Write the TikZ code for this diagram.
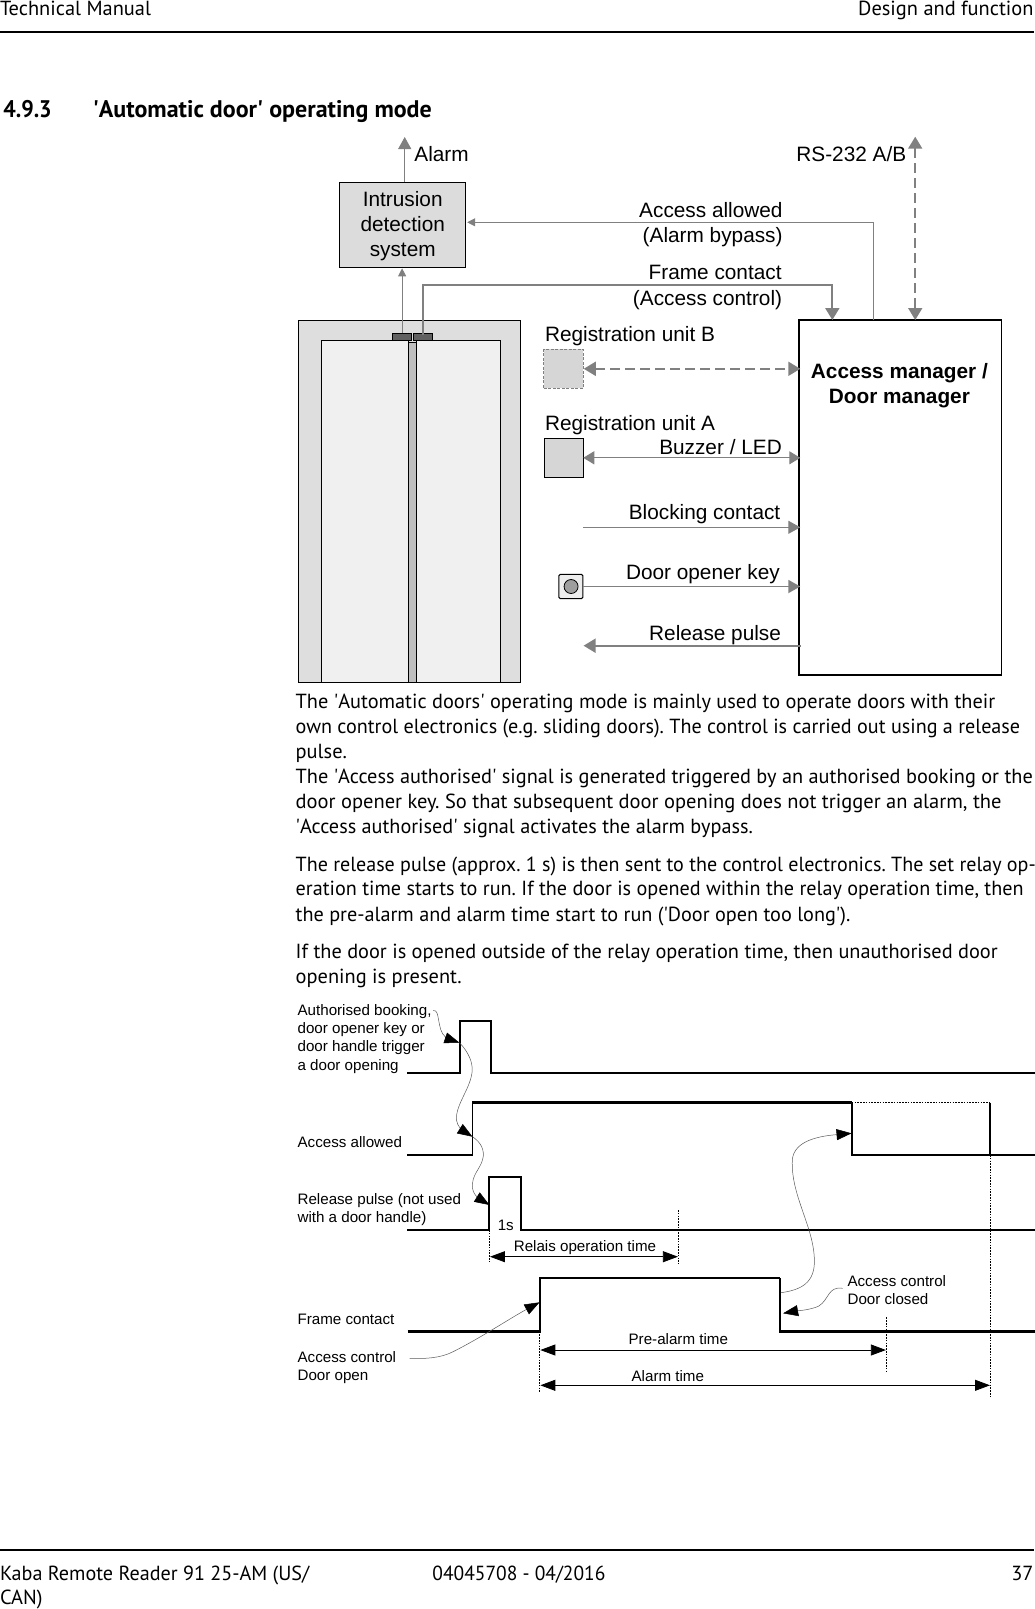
\documentclass[tikz,border=0pt]{standalone}
\usepackage{fontspec}
\usepackage{graphicx}
\setmainfont{PT Sans}
\newfontfamily\arialf{Liberation Sans}
\usetikzlibrary{arrows.meta}
\definecolor{arrgray}{HTML}{808080}
\definecolor{boxgray}{HTML}{DCDCDC}
\definecolor{regB}{HTML}{D6D6D6}
\newcommand{\sq}{\textquotesingle}
\newcommand{\sx}[2]{\scalebox{#1}[1]{#2}}
\frenchspacing
\tikzset{
  every node/.style={inner sep=0pt,outer sep=0pt},
  pagetext/.style={anchor=base west,font=\fontsize{20.4}{24}\selectfont},
  pagetextr/.style={anchor=base east,font=\fontsize{20.4}{24}\selectfont},
  headtext/.style={anchor=base west,font=\fontsize{24}{28}\selectfont\bfseries},
  biglabel/.style={anchor=base east,font=\arialf\fontsize{20.8}{25}\selectfont},
  biglabell/.style={anchor=base west,font=\arialf\fontsize{20.8}{25}\selectfont},
  smalllabel/.style={anchor=base west,font=\arialf\fontsize{15.15}{18}\selectfont},
  rect/.style={anchor=north west,draw=black,line width=1pt},
  thinarrow/.style={draw=arrgray,line width=1pt,-{Triangle[length=8pt,width=8pt]}},
  midarrow/.style={draw=arrgray,line width=1.3pt,{Triangle[length=11pt,width=13pt]}-{Triangle[length=11pt,width=13pt]}},
  onearrow/.style={draw=arrgray,line width=1.1pt,-{Triangle[length=12pt,width=13pt]}},
  heavyarrow/.style={draw=arrgray,line width=2pt,-{Triangle[length=12pt,width=14pt]}},
  dasharrow/.style={draw=arrgray,line width=1.8pt,dash pattern=on 10pt off 5pt,{Triangle[length=12pt,width=14pt]}-{Triangle[length=12pt,width=14pt]}},
  signal/.style={draw=black,line width=2pt,line join=miter},
  marker/.style={draw=black,line width=1.2pt,dash pattern=on 1.6pt off 1.2pt},
  span/.style={draw=black,line width=.8pt,{Triangle[length=15pt,width=11pt]}-{Triangle[length=15pt,width=11pt]}},
  squiggle/.style={draw=black!65,line width=.5pt,-{Triangle[length=15pt,width=11pt,color=black]}},
}
\begin{document}
\begin{tikzpicture}[x=1.001pt,y=-1pt]
\useasboundingbox (0,0) rectangle (1033,1609);
% page furniture
\coordinate (hrL) at (0,31.7); \coordinate (hrR) at (1033,31.7);
\draw[line width=2pt] (hrL) -- (hrR);
\coordinate (frL) at (0,1550); \coordinate (frR) at (1033,1550);
\draw[line width=2pt] (frL) -- (frR);
\node[pagetext] (hdrL) at (0,15) {Technical Manual};
\node[pagetextr] (hdrR) at (1032.5,15) {Design and function};
\node[headtext] (secnum) at (3.3,117) {\sx{.92}{4.9.3}};
\node[headtext] (sectitle) at (92.7,117) {\sq Automatic door\sq{} operating mode};
\node[pagetext] (ftA) at (0,1580.7) {\sx{.987}{Kaba Remote Reader 91 25-AM (US/}};
\node[pagetext] (ftB) at (0,1604.5) {CAN)};
\node[pagetext] (ftC) at (432,1580.7) {\sx{.955}{04045708 - 04/2016}};
\node[pagetextr] (ftD) at (1032.5,1580.7) {37};
% body
\node[pagetext] (p1) at (295.4,708) {\sx{.9956}{The \sq Automatic doors\sq{} operating mode is mainly used to operate doors with their}};
\node[pagetext] (p2) at (295.4,733.5) {\sx{.987}{own control electronics (e.g. sliding doors). The control is carried out using a release}};
\node[pagetext] (p3) at (295.4,758.2) {pulse.};
\node[pagetext] (p4) at (295.4,783) {\sx{.995}{The \sq Access authorised\sq{} signal is generated triggered by an authorised booking or the}};
\node[pagetext] (p5) at (295.4,808.4) {\sx{1.004}{door opener key. So that subsequent door opening does not trigger an alarm, the}};
\node[pagetext] (p6) at (295.4,833.2) {\sx{.991}{\sq Access authorised\sq{} signal activates the alarm bypass.}};
\node[pagetext] (p7) at (295.4,871) {\sx{.982}{The release pulse (approx. 1 s) is then sent to the control electronics. The set relay op-}};
\node[pagetext] (p8) at (295.4,895.8) {\sx{.989}{eration time starts to run. If the door is opened within the relay operation time, then}};
\node[pagetext] (p9) at (295.4,921) {\sx{.991}{the pre-alarm and alarm time start to run (\sq Door open too long\sq ).}};
\node[pagetext] (p10) at (295.4,958) {\sx{.996}{If the door is opened outside of the relay operation time, then unauthorised door}};
\node[pagetext] (p11) at (295.4,983) {opening is present.};
% door
\node[rect,fill=boxgray!95!white,minimum width=222pt,minimum height=361.7pt] (frame) at (298.3,320.3) {};
\node[rect,fill=black!6,minimum width=86.4pt,minimum height=341.7pt] (leafL) at (321.3,340.3) {};
\node[rect,fill=black!6,minimum width=83.4pt,minimum height=341.7pt] (leafR) at (416.3,340.3) {};
\node[rect,fill=black!25,line width=.7pt,minimum width=8.6pt,minimum height=339.3pt] (bar) at (407.7,342.7) {};
\node[rect,fill=black!62,line width=.6pt,minimum width=18.4pt,minimum height=7pt] (senL) at (392.3,333.3) {};
\node[rect,fill=black!62,line width=.6pt,minimum width=18.4pt,minimum height=7pt] (senR) at (413.3,333.3) {};
% top boxes
\node[rect,fill=boxgray,minimum width=126pt,minimum height=85.3pt] (ids) at (339.3,182) {};
\node[align=center,font=\arialf\fontsize{20.8}{24.6}\selectfont] (idstext) at (402.3,226.2) {Intrusion\\detection\\system};
\node[rect,line width=1.8pt,minimum width=202.6pt,minimum height=355pt] (am) at (798,320) {};
\node[anchor=base,align=center,font=\arialf\bfseries\fontsize{20.8}{25}\selectfont] (amtext) at (898.5,403.7) {Access manager /\\Door manager};
\node[rect,draw=arrgray,fill=regB,line width=1pt,dash pattern=on 3pt off 1.5pt,minimum width=39.4pt,minimum height=39pt] (regb) at (543.3,349.3) {};
\node[rect,fill=regB,minimum width=38.7pt,minimum height=39pt] (rega) at (544,438.3) {};
\node[rect,fill=black!7,rounded corners=1.5pt,minimum width=24pt,minimum height=24.4pt] (key) at (558.3,574.3) {};
\node[draw=black,line width=.8pt,fill=black!38,circle,minimum size=14pt] (keyb) at (570.5,586.5) {};
% top labels
\node[biglabell] (lAlarm) at (414,161.7) {Alarm};
\node[biglabel] (lRS) at (905.3,161.7) {RS-232 A/B};
\node[biglabel] (lAA) at (781.8,217.5) {Access allowed};
\node[biglabel] (lAB) at (781.8,242.5) {(Alarm bypass)};
\node[biglabel] (lFC) at (780.8,279) {Frame contact};
\node[biglabel] (lAC) at (781.3,305.5) {(Access control)};
\node[biglabell] (lRB) at (544.5,341.5) {Registration unit B};
\node[biglabell] (lRA) at (544.5,430) {Registration unit A};
\node[biglabel] (lBZ) at (781,454) {Buzzer / LED};
\node[biglabel] (lBC) at (779.5,519) {Blocking contact};
\node[biglabel] (lDK) at (779,579) {Door opener key};
\node[biglabel] (lRP) at (780.2,640) {Release pulse};
% top connectors
\coordinate (alarmtip) at (404.3,137);
\draw[draw=arrgray,line width=1.1pt,-{Triangle[length=12pt,width=13pt]}] (404.3,182) -- (alarmtip);
\coordinate (rsTop) at (914.3,136.7);
\coordinate (rsBot) at (am.north -| rsTop);
\draw[dasharrow] (rsTop) -- (rsBot);
\coordinate (aaA) at (872.8,320); \coordinate (aaB) at (872.8,222.3); \coordinate (aaC) at (ids.east |- aaB);
\draw[thinarrow] (aaA) -- (aaB) -- ([xshift=1.5pt]aaC);
\coordinate (senTop) at (401.7,333.3); \coordinate (idsBot) at (401.7,268.3);
\draw[thinarrow] (senTop) -- (idsBot);
\coordinate (fcA) at (422.3,335); \coordinate (fcB) at (422.3,284.7); \coordinate (fcC) at (831.5,284.7); \coordinate (fcD) at (831.5,320);
\draw[heavyarrow] (fcA) -- (fcB) -- (fcC) -- (fcD);
\coordinate (rbR) at ([xshift=.5pt]regb.east); \coordinate (amRb) at (am.west |- rbR);
\draw[dasharrow] (rbR) -- ([xshift=1.5pt]amRb);
\coordinate (amRa) at (am.west |- rega.east);
\draw[midarrow] (rega.east) -- ([xshift=1.5pt]amRa);
\coordinate (bcA) at (582.7,527.3); \coordinate (bcB) at (am.west |- bcA);
\draw[onearrow] (bcA) -- ([xshift=1.5pt]bcB);
\coordinate (amKey) at (am.west |- key.east);
\draw[draw=arrgray,line width=1.8pt,-{Triangle[length=12pt,width=13pt]}] (key.east) -- ([xshift=1.5pt]amKey);
\coordinate (rpA) at (800,645.7); \coordinate (rpB) at (583,645.7);
\draw[heavyarrow] (rpA) -- (rpB);
% timing labels
\node[smalllabel] (t1) at (297.3,1015) {Authorised booking,};
\node[smalllabel] (t2) at (297.3,1033.3) {door opener key or};
\node[smalllabel] (t3) at (297.3,1051) {door handle trigger};
\node[smalllabel] (t4) at (297.3,1070) {a door opening};
\node[smalllabel] (t5) at (297.3,1147.4) {Access allowed};
\node[smalllabel] (t6) at (297.3,1204) {Release pulse (not used};
\node[smalllabel] (t7) at (297.3,1222.4) {with a door handle)};
\node[smalllabel] (t8) at (497.3,1230.7) {1s};
\node[smalllabel] (t9) at (513.3,1251) {Relais operation time};
\node[smalllabel] (t10) at (297.3,1324) {Frame contact};
\node[smalllabel] (t11) at (297.3,1362.4) {Access control};
\node[smalllabel] (t12) at (297.3,1380) {Door open};
\node[smalllabel] (t13) at (846.7,1286) {Access control};
\node[smalllabel] (t14) at (846.7,1304) {Door closed};
\node[smalllabel] (t15) at (628,1344) {Pre-alarm time};
\node[smalllabel] (t16) at (631,1381) {Alarm time};
% timing markers
\coordinate (mA1) at (489,1230); \coordinate (mA2) at (489,1261.7);
\draw[marker] (mA1) -- (mA2);
\coordinate (mB1) at (677.7,1210); \coordinate (mB2) at (677.7,1264.3);
\draw[marker] (mB1) -- (mB2);
\coordinate (mC1) at (539.3,1331.5); \coordinate (mC2) at (539.3,1391.7);
\draw[marker] (mC1) -- (mC2);
\coordinate (mD1) at (885.3,1317.3); \coordinate (mD2) at (885.3,1371.7);
\draw[marker] (mD1) -- (mD2);
\coordinate (mE1) at (989.3,1155); \coordinate (mE2) at (989.3,1398);
\draw[marker] (mE1) -- (mE2);
\coordinate (mF1) at (851,1102.7); \coordinate (mF2) at (989.3,1102.7);
\draw[marker] (mF1) -- (mF2);
% signals
\coordinate (s1a) at (406.7,1072.7); \coordinate (s1b) at (459.3,1021); \coordinate (s1c) at (490.7,1021); \coordinate (s1d) at (1034,1072.7);
\draw[signal] (s1a) -| (s1b) -- (s1c) |- (s1d);
\coordinate (s2a) at (406.7,1155.3); \coordinate (s2b) at (472,1102.7); \coordinate (s2c) at (851,1102.7); \coordinate (s2d) at (1034,1155.3);
\draw[signal,line width=1.8pt] (s2a) -| (s2b);
\draw[signal,line width=2.6pt] (s2b) -- (s2c);
\draw[signal] (s2c) |- (s2d);
\draw[signal,line width=2.3pt] (mF2) -- (mE1);
\coordinate (s3a) at (406.7,1230); \coordinate (s3b) at (489,1176.7); \coordinate (s3c) at (520,1176.7); \coordinate (s3d) at (1034,1230);
\draw[signal] (s3a) -| (s3b) -- (s3c) |- (s3d);
\coordinate (s4a) at (407.3,1331.5); \coordinate (s4b) at (539.3,1278.3); \coordinate (s4c) at (779.3,1278.3); \coordinate (s4d) at (1034,1331.5);
\draw[signal,line width=2.1pt] (s4a) -| (s4b) -- (s4c);
\draw[signal,line width=2.4pt] (s4c) |- (s4d);
% spans
\coordinate (spA1) at (489.5,1256.7); \coordinate (spA2) at (677.2,1256.7);
\draw[span] (spA1) -- (spA2);
\coordinate (spB1) at (539.8,1350); \coordinate (spB2) at (885,1350);
\draw[span] (spB1) -- (spB2);
\coordinate (spC1) at (539.8,1385.3); \coordinate (spC2) at (989,1385.3);
\draw[span] (spC1) -- (spC2);
% curved leaders
\coordinate (cA0) at (432.7,1010.7); \coordinate (cA1) at (459,1042.7); \coordinate (cB1) at (472,1136.7); \coordinate (cC1) at (489,1205);
\draw[squiggle] (cA0) .. controls (440,1008) and (436,1030) .. (445,1037) .. controls (449,1040) and (454,1041) .. (cA1);
\draw[squiggle] (cA1) .. controls (468,1052) and (473,1063) .. (471.5,1073) .. controls (469,1090) and (455,1105) .. (456,1120) .. controls (456.5,1126) and (463,1131) .. (cB1);
\draw[squiggle] (cB1) .. controls (480,1142) and (485,1150) .. (482,1160) .. controls (479,1170) and (471,1175) .. (472,1188) .. controls (473,1196) and (481,1200) .. (cC1);
\coordinate (cD0) at (780,1292.7); \coordinate (cD1) at (850.7,1133.3);
\draw[squiggle] (cD0) .. controls (800,1290) and (815,1283) .. (813.5,1258) .. controls (812,1225) and (790,1195) .. (791.5,1160) .. controls (793,1140) and (820,1136) .. (cD1);
\coordinate (cE0) at (841.7,1288.3); \coordinate (cE1) at (782.3,1313.3);
\draw[squiggle] (cE0) .. controls (827,1286) and (828,1300) .. (818,1306) .. controls (810,1310) and (795,1311) .. (cE1);
\coordinate (cF0) at (409.3,1358.3); \coordinate (cF1) at (539,1302.3);
\draw[squiggle] (cF0) .. controls (425,1359) and (440,1358) .. (452,1352) .. controls (480,1338) and (510,1318) .. (cF1);
\end{tikzpicture}
\end{document}
